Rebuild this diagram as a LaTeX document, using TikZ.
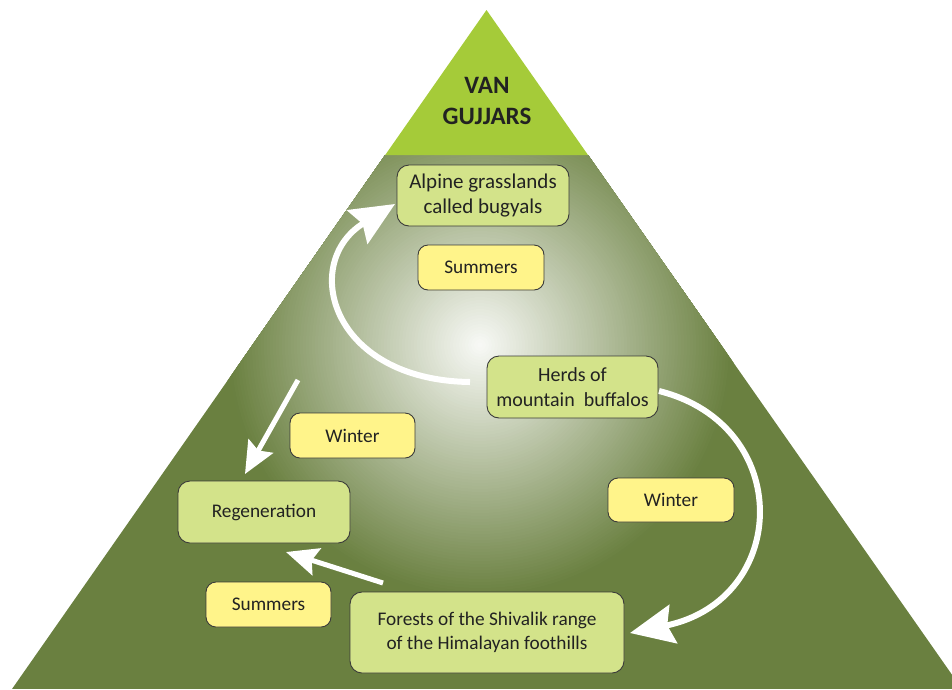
\documentclass[tikz,border=0pt]{standalone}
\usepackage{fontspec}
\setmainfont{Carlito}
\usetikzlibrary{arrows.meta}
\definecolor{topgreen}{HTML}{A5CB39}
\definecolor{olive}{HTML}{6A8040}
\definecolor{boxgreen}{HTML}{D3E38A}
\definecolor{boxyellow}{HTML}{FFF48A}
\definecolor{boxline}{HTML}{3A3A3A}
\definecolor{txt}{HTML}{222222}
\tikzset{
  mainbox/.style={draw=boxline, line width=0.9pt, rounded corners=12pt, fill=boxgreen,
    text=txt, align=center, inner sep=2pt, font=\fontsize{19.3}{24.5}\selectfont},
  seasonbox/.style={draw=boxline, line width=0.9pt, rounded corners=10pt, fill=boxyellow,
    text=txt, align=center, inner sep=2pt, font=\fontsize{19.3}{24}\selectfont},
  bigarrow/.style={draw=white, line width=6pt, -{Stealth[length=44pt, width=39pt, inset=6pt]}},
  smallarrow/.style={draw=white, line width=5pt, -{Stealth[length=32pt, width=28pt, inset=5pt]}}
}
\begin{document}
\begin{tikzpicture}[x=1pt, y=-1pt]
\useasboundingbox (0,0) rectangle (952,689);
% pyramid
\begin{scope}
  \clip (385.2,155) -- (588.0,155) -- (962,689) -- (12,689) -- cycle;
  \fill[olive] (0,0) rectangle (962,689);
  \foreach \r in {255,252,...,3} {
    \pgfmathsetmacro\pct{max(0,96-0.38*\r)}
    \fill[white!\pct!olive] (480,345) circle (\r);
  }
\end{scope}
\fill[topgreen] (486.5,10) -- (588.0,155) -- (385.2,155) -- cycle;
\node[text=txt, align=center, font=\fontsize{25}{31}\selectfont\bfseries] (title) at (487,101) {VAN\\GUJJARS};
% boxes
\node[mainbox, minimum width=172pt, minimum height=61pt, font=\fontsize{21}{25}\selectfont] (alpine) at (483,195.5) {Alpine grasslands\\called bugyals};
\node[seasonbox, minimum width=126pt, minimum height=45pt] (sumtop) at (481,267.5) {Summers};
\node[mainbox, minimum width=171pt, minimum height=62pt, font=\fontsize{20}{24.5}\selectfont] (herds) at (572.5,387) {Herds of\\mountain\ \ buffalos};
\node[seasonbox, minimum width=125pt, minimum height=45pt] (winl) at (352.5,435.5) {Winter};
\node[seasonbox, minimum width=126pt, minimum height=44pt] (winr) at (671,500) {Winter};
\node[mainbox, minimum width=172pt, minimum height=62pt] (regen) at (264,512) {Regeneration};
\node[seasonbox, minimum width=125pt, minimum height=45pt] (sumbot) at (268.5,604.5) {Summers};
\node[mainbox, minimum width=274pt, minimum height=81pt] (forest) at (487,632.5) {Forests of the Shivalik range\\of the Himalayan foothills};
% arrow end points
\coordinate (c1s) at (470,382);
\coordinate (c1e) at (395,204);
\coordinate (c2s) at (659,391);
\coordinate (c2e) at (630,633);
\coordinate (s1s) at (298,380);
\coordinate (s1e) at (245,474);
\coordinate (s2s) at (383,583);
\coordinate (s2e) at (286,552);
\draw[bigarrow] (c1s) .. controls (330,380) and (300,262) .. (c1e);
\draw[bigarrow] (c2s) .. controls (795,425) and (790,600) .. (c2e);
\draw[smallarrow] (s1s) -- (s1e);
\draw[smallarrow] (s2s) -- (s2e);
\end{tikzpicture}
\end{document}
